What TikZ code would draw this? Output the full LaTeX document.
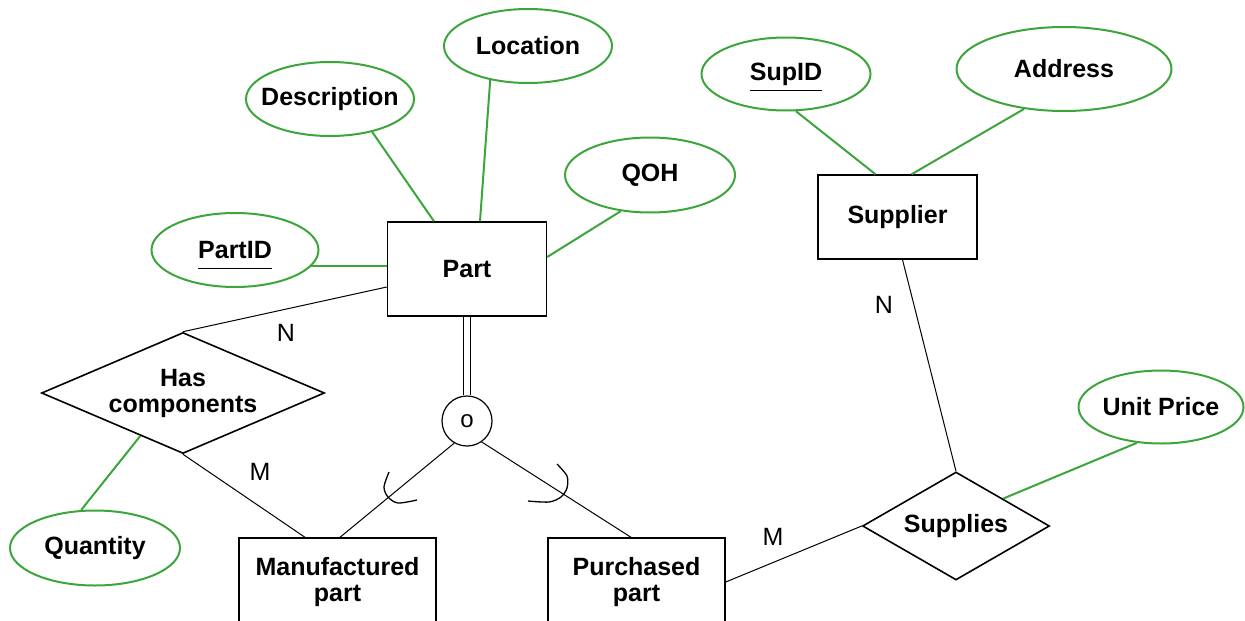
\documentclass[tikz,border=0pt]{standalone}
\usepackage{fontspec}
\setmainfont{Liberation Sans}
\usetikzlibrary{shapes.geometric,calc}
\definecolor{attrgreen}{RGB}{60,165,60}
\newsavebox\keybox
\newcommand{\keyattr}[1]{\sbox\keybox{#1}\smash{\rlap{\rule[-11pt]{\wd\keybox}{1.2pt}}}\usebox\keybox}
\newcommand{\zw}[1]{\makebox[0pt]{#1}}
\begin{document}
\begin{tikzpicture}[x=1pt,y=-1pt,
  entity/.style={draw, line width=1.4pt, rectangle, inner sep=0pt, align=center,
    font=\bfseries\fontsize{25}{26}\selectfont},
  attr/.style={draw=attrgreen, line width=2pt, ellipse, inner sep=0pt,
    font=\bfseries\fontsize{25}{26}\selectfont},
  rel/.style={draw, line width=1.6pt, diamond, inner sep=0pt, align=center,
    font=\bfseries\fontsize{25}{26}\selectfont},
  card/.style={inner sep=0pt, font=\fontsize{25}{26}\selectfont},
  link/.style={line width=1pt},
  alink/.style={draw=attrgreen, line width=2pt}]
\useasboundingbox (0,0) rectangle (1245,621);
\fill[white] (0,0) rectangle (1245,621);

% entities
\node[entity, minimum width=159pt, minimum height=94pt] (part) at (467,269) {Part};
\node[entity, minimum width=159pt, minimum height=84pt] (supplier) at (897.5,217) {Supplier};
\node[entity, minimum width=197pt, minimum height=88pt] (manuf) at (337.5,582) {Manufactured\\part};
\node[entity, minimum width=177pt, minimum height=88pt] (purch) at (636.5,582) {Purchased\\part};

% attributes
\node[attr, minimum width=167pt, minimum height=74pt] (partid) at (235,250) {\zw{\keyattr{PartID}}};
\node[attr, minimum width=168pt, minimum height=74pt] (desc) at (330,99) {\zw{Description}};
\node[attr, minimum width=168pt, minimum height=74pt] (loc) at (528,46) {\zw{Location}};
\node[attr, minimum width=170pt, minimum height=75pt] (qoh) at (650,175) {\zw{QOH}};
\node[attr, minimum width=169pt, minimum height=73pt] (supid) at (786,74) {\zw{\keyattr{SupID}}};
\node[attr, minimum width=215pt, minimum height=84pt] (addr) at (1064,69) {\zw{Address}};
\node[attr, minimum width=165pt, minimum height=73pt] (unitp) at (1161,407) {\zw{Unit Price}};
\node[attr, minimum width=170pt, minimum height=75pt] (qty) at (95,548) {\zw{Quantity}};

% relationships
\node[rel, aspect=2.34, minimum width=283pt, minimum height=121pt] (hascomp) at (183,393) {Has\\components};
\node[rel, aspect=1.73, minimum width=187pt, minimum height=108pt] (supplies) at (956,526) {Supplies};

% specialization circle
\node[draw, circle, line width=1.2pt, minimum size=50pt, inner sep=0pt,
  font=\fontsize{24}{24}\selectfont] (disj) at (467,421) {o};

% cardinality labels
\node[card] (n1) at (286,333) {N};
\node[card] (m1) at (260,472) {M};
\node[card] (n2) at (884,305) {N};
\node[card] (m2) at (773,537) {M};

% attribute links
\draw[alink] (partid.-12) -- (partid.-12 -| part.west);
\draw[alink] (desc.-38) -- ([xshift=-33pt]part.north);
\draw[alink] (loc.-138) -- ([xshift=13pt]part.north);
\draw[alink] (qoh.-129) -- ([yshift=12pt]part.east);
\draw[alink] (supid.-75) -- ([xshift=-22pt]supplier.north);
\draw[alink] (addr.-135) -- ([xshift=14pt]supplier.north);
\draw[alink] (qty.110) -- ($(hascomp.south)!0.3!(hascomp.west)$);
\draw[alink] (unitp.-124) -- ($(supplies.north)!0.5!(supplies.east)$);

% relationship links
\draw[link] ([yshift=-18pt]part.west) -- (hascomp.north);
\draw[link] (hascomp.south) -- ([xshift=-32.5pt]manuf.north);
\draw[link] ([xshift=5pt]supplier.south) -- (supplies.north);
\draw[link] (purch.east) -- (supplies.west);

% specialization
\draw[link, double, double distance=6pt] (part.south) -- (disj.north);
\draw[link] (disj.-120) -- ([xshift=2.5pt]manuf.north);
\draw[link] (disj.-55) -- ([xshift=-5.5pt]purch.north);
\draw[line width=1.3pt] plot[smooth] coordinates {(389,472) (384,487) (388,497) (398,503) (417,500)};
\draw[line width=1.3pt] plot[smooth] coordinates {(557,464) (567,476) (567,488) (561,497) (549,502) (528,501)};
\end{tikzpicture}
\end{document}
